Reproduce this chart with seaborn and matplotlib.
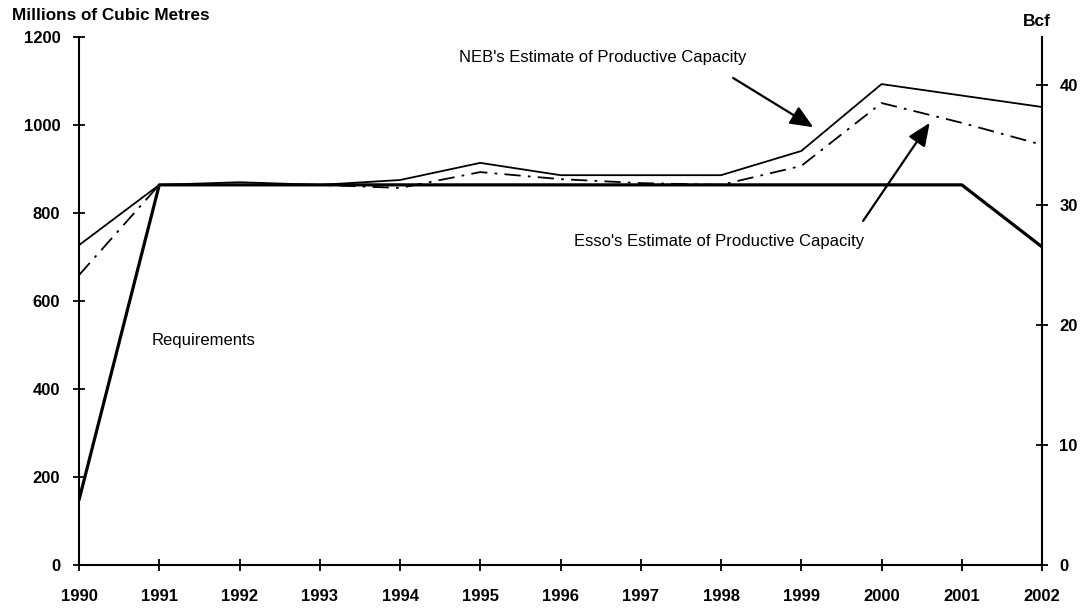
import matplotlib
matplotlib.use("Agg")
import matplotlib.pyplot as plt
import seaborn as sns
import pandas as pd

years = list(range(1990, 2003))
neb_capacity = [727, 864, 870, 864, 875, 914, 886, 886, 886, 941, 1093, 1067, 1041]
esso_capacity = [659, 864, 864, 864, 857, 893, 877, 868, 864, 907, 1050, 1005, 955]
requirements = [148, 864, 864, 864, 864, 864, 864, 864, 864, 864, 864, 864, 723]

left_ticks = [0, 200, 400, 600, 800, 1000, 1200]
right_ticks = [0, 10, 20, 30, 40]

df = pd.DataFrame({
    "year": years,
    "neb": neb_capacity,
    "esso": esso_capacity,
    "req": requirements,
})

sns.set_style("ticks", {"axes.edgecolor": "black", "text.color": "black",
                        "xtick.color": "black", "ytick.color": "black"})
plt.rcParams["font.family"] = ["Liberation Sans", "DejaVu Sans"]

fig = plt.figure(figsize=(10.84, 6.08), dpi=100)
ax = fig.add_axes([0.0729, 0.0707, 0.8884, 0.8684])

sns.lineplot(data=df, x="year", y="neb", ax=ax, color="black", linewidth=1.3)
sns.lineplot(data=df, x="year", y="esso", ax=ax, color="black", linewidth=1.3)
ax.lines[-1].set_dashes([9, 4, 1.5, 4])
sns.lineplot(data=df, x="year", y="req", ax=ax, color="black", linewidth=2.3)

ax.set_xlim(1990, 2002)
ax.set_ylim(0, 1200)
ax.set_xticks(years)
ax.set_yticks(left_ticks)
ax.set_xlabel("")
ax.set_ylabel("")
ax.spines["top"].set_visible(False)
ax.spines["right"].set_visible(False)
for s in ["left", "bottom"]:
    ax.spines[s].set_linewidth(1.5)
ax.tick_params(direction="inout", length=9, width=1.3, labelsize=12,
               colors="black")
ax.tick_params(axis="x", pad=13)
ax.tick_params(axis="y", pad=9)
for lbl in ax.get_xticklabels() + ax.get_yticklabels():
    lbl.set_fontweight("bold")

ax2 = ax.twinx()
ax2.set_ylim(0, 44)
ax2.set_yticks(right_ticks)
ax2.spines["top"].set_visible(False)
ax2.spines["left"].set_visible(False)
ax2.spines["bottom"].set_visible(False)
ax2.spines["right"].set_linewidth(1.5)
ax2.tick_params(direction="inout", length=9, width=1.3, labelsize=12, pad=8,
                colors="black")
for lbl in ax2.get_yticklabels():
    lbl.set_fontweight("bold")

fig.text(0.011, 0.975, "Millions of Cubic Metres", fontsize=12.3, fontweight="heavy",
         ha="left", va="center", color="black")
fig.text(0.9566, 0.964, "Bcf", fontsize=12.5, fontweight="bold", ha="center",
         va="center", color="black")

arrow = dict(arrowstyle="-|>,head_length=0.7,head_width=0.3", color="black",
             lw=1.6, mutation_scale=20, shrinkA=0, shrinkB=0)
ax.annotate("", xy=(1999.15, 995), xytext=(1998.15, 1107), arrowprops=arrow)
ax.annotate("", xy=(2000.6, 1005), xytext=(1999.77, 782), arrowprops=arrow)

ax.text(1996.52, 1154, "NEB's Estimate of Productive Capacity", fontsize=12,
        ha="center", va="center", color="black")
ax.text(1997.98, 736, "Esso's Estimate of Productive Capacity", fontsize=12,
        ha="center", va="center", color="black")
ax.text(1991.55, 511, "Requirements", fontsize=12, ha="center", va="center",
        color="black")

fig.savefig("out.png", dpi=100)
